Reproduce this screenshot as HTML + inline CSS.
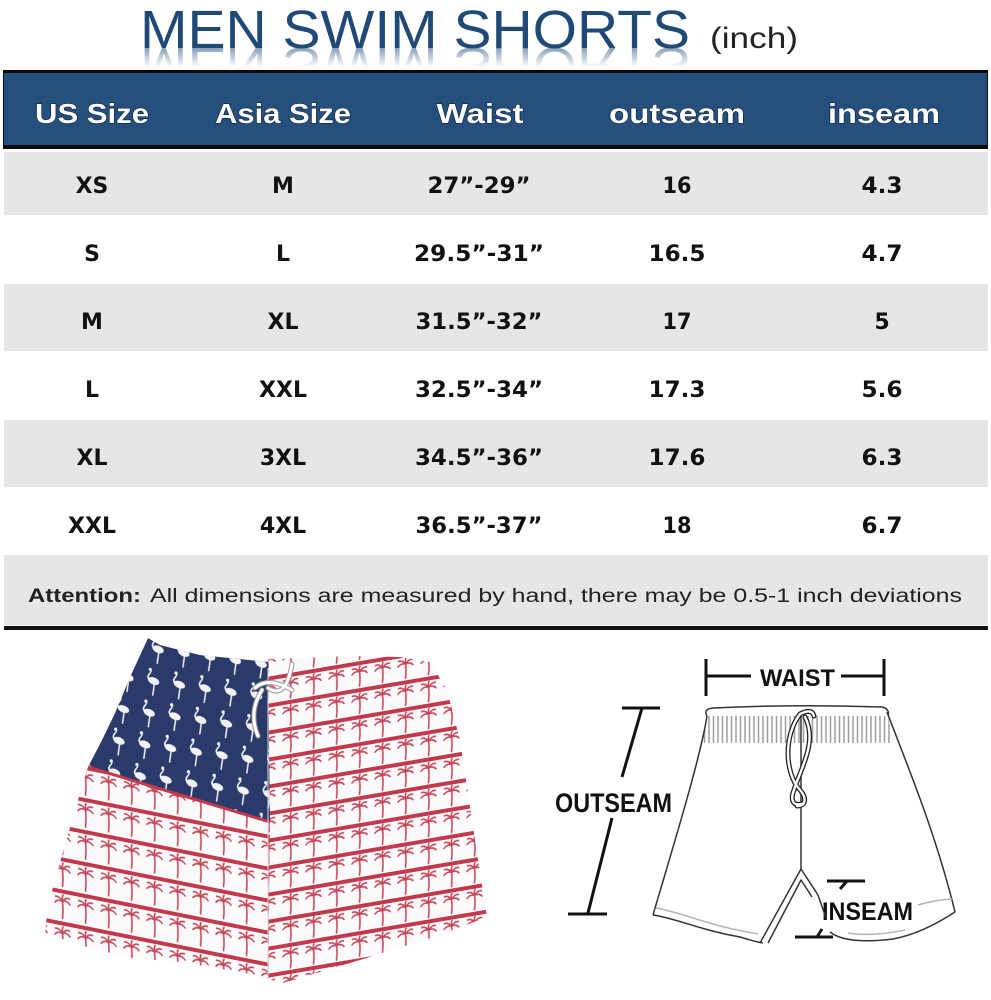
<!DOCTYPE html>
<html>
<head>
<meta charset="utf-8">
<style>
html,body{margin:0;padding:0;background:#fff;}
svg{display:block;}
text{font-family:"Liberation Sans",Arial,sans-serif;}
.dv text{font-family:"DejaVu Sans","Liberation Sans",sans-serif;}
</style>
</head>
<body>
<svg xmlns="http://www.w3.org/2000/svg" width="991" height="1000" viewBox="0 0 991 1000">
<defs>
  <linearGradient id="rg" gradientUnits="userSpaceOnUse" x1="0" y1="47" x2="0" y2="29">
    <stop offset="0" stop-color="#1f4a78" stop-opacity="0.5"/>
    <stop offset="1" stop-color="#1f4a78" stop-opacity="0"/>
  </linearGradient>
  <pattern id="palmL" width="23" height="32" patternUnits="userSpaceOnUse" x="5" y="13" patternTransform="skewY(11.3)">
    <rect x="0" y="0" width="23" height="4" fill="#c3394b"/>
    <g stroke="#c8475a" stroke-width="1.6" fill="none" stroke-linecap="round">
      <path d="M11.5 29 Q12.5 20 11.5 12"/>
      <path d="M11.5 12 Q7 10 4 14 M11.5 12 Q8 7 4.5 8 M11.5 12 Q11 7.5 12 5.5 M11.5 12 Q15 7 18.5 8 M11.5 12 Q16 10 19 14"/>
    </g>
  </pattern>
  <pattern id="palmR" width="23" height="27" patternUnits="userSpaceOnUse" x="3" y="20" patternTransform="skewY(-9.6)">
    <rect x="0" y="0" width="23" height="4" fill="#c3394b"/>
    <g stroke="#c8475a" stroke-width="1.6" fill="none" stroke-linecap="round">
      <path d="M11.5 25 Q12.5 17 11.5 10.5"/>
      <path d="M11.5 10.5 Q7 9 4 12.5 M11.5 10.5 Q8 6 4.5 7 M11.5 10.5 Q11 6.5 12 5 M11.5 10.5 Q15 6 18.5 7 M11.5 10.5 Q16 9 19 12.5"/>
    </g>
  </pattern>
  <pattern id="flam" width="26" height="32" patternUnits="userSpaceOnUse" patternTransform="rotate(8)">
    <g stroke="#f4f4f8" stroke-width="1.5" fill="none" stroke-linecap="round">
      <path d="M9 13 Q5 10 8 6 Q10 3 8 1.5"/>
      <path d="M14 15 L14 27"/>
    </g>
    <ellipse cx="13" cy="13" rx="6" ry="3.5" fill="#f4f4f8" transform="rotate(15 13 13)"/>
    <circle cx="8" cy="2" r="1.6" fill="#f4f4f8"/>
  </pattern>
  <pattern id="rib" width="4.5" height="30" patternUnits="userSpaceOnUse" x="707" y="716">
    <line x1="2" y1="0" x2="2" y2="30" stroke="#8e8e8e" stroke-width="1.5"/>
  </pattern>
  <clipPath id="shorts">
    <path d="M148,638 L160,645 L200,655 L255,660 L300,658 L350,656 L400,657 L430,662 L447,690 L460,740 L473,827 L487,917 L440,935 L360,960 L283,983 L265,978 L245,973 L180,962 L130,958 L80,945 L45,933 L48,905 L55,880 L65,845 L78,800 L88,767 L102,740 L115,713 L130,677 Z"/>
  </clipPath>
</defs>

<rect x="0" y="0" width="991" height="1000" fill="#fff"/>

<!-- Title -->
<text x="140" y="48" font-size="54" textLength="550" lengthAdjust="spacingAndGlyphs" fill="#1f4a78">MEN SWIM SHORTS</text>
<g transform="translate(0,96) scale(1,-1)">
  <text x="140" y="48" font-size="54" textLength="550" lengthAdjust="spacingAndGlyphs" fill="url(#rg)">MEN SWIM SHORTS</text>
</g>
<text x="710" y="48" font-size="30" textLength="88" lengthAdjust="spacingAndGlyphs" fill="#222">(inch)</text>

<!-- Header -->
<rect x="3" y="70" width="985" height="79" fill="#0c0c0c"/>
<rect x="4" y="73" width="983" height="72" fill="#25507e"/>
<g font-size="28" font-weight="bold" fill="#fff" text-anchor="middle" stroke="#10243c" stroke-width="1.2" paint-order="stroke">
  <text x="92" y="123" textLength="114" lengthAdjust="spacingAndGlyphs">US Size</text>
  <text x="283" y="123" textLength="136" lengthAdjust="spacingAndGlyphs">Asia Size</text>
  <text x="480" y="123" textLength="87" lengthAdjust="spacingAndGlyphs">Waist</text>
  <text x="677" y="123" textLength="136" lengthAdjust="spacingAndGlyphs">outseam</text>
  <text x="884" y="123" textLength="112" lengthAdjust="spacingAndGlyphs">inseam</text>
</g>

<!-- Rows -->
<rect x="4" y="152" width="984" height="63" fill="#e6e6e6"/>
<rect x="4" y="284" width="984" height="67" fill="#e6e6e6"/>
<rect x="4" y="420" width="984" height="67" fill="#e6e6e6"/>
<rect x="4" y="555" width="984" height="70" fill="#e6e6e6"/>
<rect x="4" y="626" width="984" height="4" fill="#111"/>

<g class="dv" font-size="22" font-weight="bold" fill="#111" text-anchor="middle">
  <text x="92" y="193">XS</text>
  <text x="283" y="193">M</text>
  <text x="479" y="193" textLength="103" lengthAdjust="spacingAndGlyphs">27”-29”</text>
  <text x="677" y="193" textLength="29" lengthAdjust="spacingAndGlyphs">16</text>
  <text x="882" y="193" textLength="41" lengthAdjust="spacingAndGlyphs">4.3</text>

  <text x="92" y="261">S</text>
  <text x="283" y="261">L</text>
  <text x="479" y="261" textLength="130" lengthAdjust="spacingAndGlyphs">29.5”-31”</text>
  <text x="677" y="261" textLength="57" lengthAdjust="spacingAndGlyphs">16.5</text>
  <text x="882" y="261" textLength="41" lengthAdjust="spacingAndGlyphs">4.7</text>

  <text x="92" y="329">M</text>
  <text x="283" y="329">XL</text>
  <text x="479" y="329" textLength="127" lengthAdjust="spacingAndGlyphs">31.5”-32”</text>
  <text x="677" y="329" textLength="29" lengthAdjust="spacingAndGlyphs">17</text>
  <text x="882" y="329">5</text>

  <text x="92" y="397">L</text>
  <text x="283" y="397">XXL</text>
  <text x="479" y="397" textLength="128" lengthAdjust="spacingAndGlyphs">32.5”-34”</text>
  <text x="677" y="397" textLength="57" lengthAdjust="spacingAndGlyphs">17.3</text>
  <text x="882" y="397" textLength="41" lengthAdjust="spacingAndGlyphs">5.6</text>

  <text x="92" y="465">XL</text>
  <text x="283" y="465">3XL</text>
  <text x="479" y="465" textLength="128" lengthAdjust="spacingAndGlyphs">34.5”-36”</text>
  <text x="677" y="465" textLength="57" lengthAdjust="spacingAndGlyphs">17.6</text>
  <text x="882" y="465" textLength="41" lengthAdjust="spacingAndGlyphs">6.3</text>

  <text x="92" y="533">XXL</text>
  <text x="283" y="533">4XL</text>
  <text x="479" y="533" textLength="127" lengthAdjust="spacingAndGlyphs">36.5”-37”</text>
  <text x="677" y="533" textLength="29" lengthAdjust="spacingAndGlyphs">18</text>
  <text x="882" y="533" textLength="41" lengthAdjust="spacingAndGlyphs">6.7</text>
</g>

<text x="28" y="602" font-size="19" font-weight="bold" fill="#222" textLength="113" lengthAdjust="spacingAndGlyphs">Attention:</text>
<text x="150" y="602" font-size="19" fill="#222" textLength="812" lengthAdjust="spacingAndGlyphs">All dimensions are measured by hand, there may be 0.5-1 inch deviations</text>

<!-- Left photo shorts -->
<g clip-path="url(#shorts)">
  <rect x="30" y="630" width="470" height="370" fill="#fbfbfb"/>
  <path d="M88,767 L270,822 L268,1000 L20,1000 L20,767 Z" fill="url(#palmL)"/>
  <path d="M268,640 L510,640 L510,1000 L268,1000 Z" fill="url(#palmR)"/>
  <path d="M148,638 L160,645 L200,655 L268,662 L270,822 L88,767 L102,740 L115,713 L130,677 Z" fill="#2a3b6b"/>
  <path d="M148,638 L160,645 L200,655 L268,662 L270,822 L88,767 L102,740 L115,713 L130,677 Z" fill="url(#flam)"/>
  <line x1="88" y1="767" x2="270" y2="822" stroke="#c3394b" stroke-width="3"/>
  <line x1="268" y1="668" x2="268" y2="985" stroke="#d8d8d8" stroke-width="1"/>
</g>
<g fill="none" stroke-linecap="round">
  <path d="M255,688 Q268,676 292,690 M262,690 Q248,712 258,736 M268,688 Q286,700 292,664" stroke="#9a9a9a" stroke-width="5"/>
  <path d="M255,688 Q268,676 292,690 M262,690 Q248,712 258,736 M268,688 Q286,700 292,664" stroke="#fff" stroke-width="3"/>
</g>

<!-- Right line drawing -->
<g stroke="#111" stroke-width="3" fill="none">
  <line x1="706" y1="659" x2="706" y2="696"/>
  <line x1="884" y1="659" x2="884" y2="696"/>
  <line x1="706" y1="676" x2="751" y2="676"/>
  <line x1="841" y1="676" x2="884" y2="676"/>
  <line x1="622" y1="708" x2="660" y2="708"/>
  <line x1="642" y1="708" x2="622" y2="777"/>
  <line x1="612" y1="818" x2="588" y2="913"/>
  <line x1="568" y1="914" x2="607" y2="914"/>
  <line x1="827" y1="881" x2="865" y2="881"/>
  <line x1="847" y1="881" x2="840" y2="889"/>
  <line x1="822" y1="929" x2="817" y2="937"/>
  <line x1="795" y1="937" x2="833" y2="937"/>
</g>
<g font-weight="bold" fill="#111">
  <text x="760" y="686" font-size="24" textLength="75" lengthAdjust="spacingAndGlyphs">WAIST</text>
  <text x="555" y="812" font-size="27" textLength="117" lengthAdjust="spacingAndGlyphs">OUTSEAM</text>
  <text x="822" y="920" font-size="25" textLength="91" lengthAdjust="spacingAndGlyphs">INSEAM</text>
</g>

<path d="M707,716 L888,716 L893,743 L701,743 Z" fill="url(#rib)" opacity="0.85"/>
<g stroke="#333" stroke-width="1.5" fill="none" stroke-linejoin="round">
  <path d="M707,716 Q703,709 713,708 Q795,704 882,707 Q890,709 888,716"/>
  <path d="M707,716 C700,760 672,850 653,915"/>
  <path d="M887,712 C905,760 935,830 955,912"/>
  <path d="M653,915 C675,918 700,930 740,937 C750,940 756,942 763,943"/>
  <path d="M760,943 L801,869 L818,895"/>
  <path d="M768,943 L801,880 L812,897"/>
  <path d="M801,716 L801,869"/>
  <path d="M818,895 L826,918"/>
  <path d="M830,932 C840,940 860,943 893,939 C915,935 935,925 955,912"/>
</g>
<g stroke="#b5b5b5" stroke-width="1.5" fill="none">
  <path d="M656,908 C680,912 705,924 742,931 L758,934"/>
  <path d="M918,905 Q935,900 952,899"/>
  <path d="M848,933 C865,936 885,934 905,930"/>
</g>
<g fill="none" stroke-linecap="round">
  <path d="M800,714 C784,735 784,772 800,790 C807,798 806,806 797,806 M805,717 C818,742 800,770 794,790 C790,800 793,806 801,804 M800,714 Q812,708 814,716" stroke="#222" stroke-width="5"/>
  <path d="M800,714 C784,735 784,772 800,790 C807,798 806,806 797,806 M805,717 C818,742 800,770 794,790 C790,800 793,806 801,804 M800,714 Q812,708 814,716" stroke="#fff" stroke-width="2.4"/>
</g>
</svg>
</body>
</html>
